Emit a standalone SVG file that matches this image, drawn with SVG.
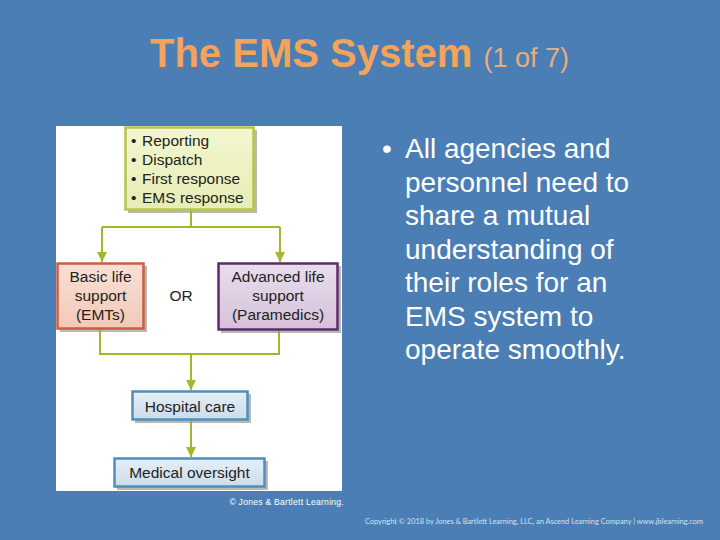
<svg xmlns="http://www.w3.org/2000/svg" width="720" height="540" viewBox="0 0 720 540">
<defs>
<marker id="arr" viewBox="0 0 10 10" refX="10" refY="5" markerWidth="10" markerHeight="10" markerUnits="userSpaceOnUse" orient="auto">
<path d="M0,0 L10,5 L0,10 z" fill="#a8b52c"/>
</marker>
<linearGradient id="gy" x1="0" y1="0" x2="0" y2="1"><stop offset="0" stop-color="#f3f6d0"/><stop offset="1" stop-color="#e6edb4"/></linearGradient>
<linearGradient id="gr" x1="0" y1="0" x2="0" y2="1"><stop offset="0" stop-color="#f9e0d4"/><stop offset="1" stop-color="#f1c9b8"/></linearGradient>
<linearGradient id="gp" x1="0" y1="0" x2="0" y2="1"><stop offset="0" stop-color="#e8dcec"/><stop offset="1" stop-color="#d5c2da"/></linearGradient>
<linearGradient id="gb" x1="0" y1="0" x2="0" y2="1"><stop offset="0" stop-color="#e6eff6"/><stop offset="1" stop-color="#cadceb"/></linearGradient>
</defs>
<style>
.t{font-family:"Liberation Sans",Arial,sans-serif;}
.bx{font-family:"Liberation Sans",Arial,sans-serif;font-size:15.5px;fill:#222;}
.sh{fill:#9a9a9a;opacity:0.7;}
.con{fill:none;stroke:#a8b52c;stroke-width:2;}
</style>
<rect x="0" y="0" width="720" height="540" fill="#4a7eb5"/>
<text class="t" x="150" y="67" font-size="40" font-weight="bold" fill="#f3a35a">The EMS System <tspan font-size="27" font-weight="normal" fill="#e8ad7c">(1 of 7)</tspan></text>
<rect x="56" y="126" width="286" height="365" fill="#ffffff"/>
<g id="connectors">
<path class="con" d="M191,210 V227 M102,227 H280"/>
<path class="con" d="M102,227 V262" marker-end="url(#arr)"/>
<path class="con" d="M280,227 V262" marker-end="url(#arr)"/>
<path class="con" d="M100,329 V354 H279 V331"/>
<path class="con" d="M191,354 V390" marker-end="url(#arr)"/>
<path class="con" d="M191,420 V457" marker-end="url(#arr)"/>
</g>
<g id="top">
<rect class="sh" x="128" y="130" width="129" height="83"/>
<rect x="125.5" y="127.5" width="128" height="82" fill="url(#gy)" stroke="#b9c44c" stroke-width="2.5"/>
<text class="bx" font-size="16"><tspan x="131" y="146">•</tspan><tspan x="142" y="146">Reporting</tspan><tspan x="131" y="165">•</tspan><tspan x="142" y="165">Dispatch</tspan><tspan x="131" y="184">•</tspan><tspan x="142" y="184">First response</tspan><tspan x="131" y="203">•</tspan><tspan x="142" y="203">EMS response</tspan></text>
</g>
<g id="basic">
<rect class="sh" x="60" y="266" width="87" height="66"/>
<rect x="57.5" y="263.5" width="86" height="65" fill="url(#gr)" stroke="#c95e40" stroke-width="2.5"/>
<text class="bx" text-anchor="middle"><tspan x="100.5" y="282">Basic life</tspan><tspan x="100.5" y="301">support</tspan><tspan x="100.5" y="320">(EMTs)</tspan></text>
</g>
<g id="or"><text class="bx" x="181" y="301" font-size="16" text-anchor="middle">OR</text></g>
<g id="advanced">
<rect class="sh" x="221" y="266" width="120" height="67"/>
<rect x="218.5" y="263.5" width="119" height="66" fill="url(#gp)" stroke="#5c2c6a" stroke-width="2.5"/>
<text class="bx" text-anchor="middle"><tspan x="278" y="282">Advanced life</tspan><tspan x="278" y="301">support</tspan><tspan x="278" y="320">(Paramedics)</tspan></text>
</g>
<g id="hospital">
<rect class="sh" x="135" y="394" width="116" height="29"/>
<rect x="132.5" y="391.5" width="115" height="28" fill="url(#gb)" stroke="#4f8fba" stroke-width="2.5"/>
<text class="bx" x="190" y="411.5" text-anchor="middle">Hospital care</text>
</g>
<g id="medical">
<rect class="sh" x="117" y="461" width="151" height="29"/>
<rect x="114.5" y="458.5" width="150" height="28" fill="url(#gb)" stroke="#4f8fba" stroke-width="2.5"/>
<text class="bx" x="189.5" y="478" text-anchor="middle">Medical oversight</text>
</g>
<text class="t" x="344" y="505" font-size="8.6" fill="#ffffff" text-anchor="end" letter-spacing="0.25">© Jones &amp; Bartlett Learning.</text>
<g class="t" font-size="28" fill="#ffffff">
<text x="382" y="158">•</text>
<text x="405" y="158">All agencies and</text>
<text x="405" y="191.5">personnel need to</text>
<text x="405" y="225">share a mutual</text>
<text x="405" y="258.5">understanding of</text>
<text x="405" y="292">their roles for an</text>
<text x="405" y="325.5">EMS system to</text>
<text x="405" y="359">operate smoothly.</text>
</g>
<text x="365" y="524" font-family="Lato,'Liberation Sans',sans-serif" font-size="7.2" fill="#d4e0ee" textLength="338" lengthAdjust="spacingAndGlyphs">Copyright © 2018 by Jones &amp; Bartlett Learning, LLC, an Ascend Learning Company  |  www.jblearning.com</text>
</svg>
